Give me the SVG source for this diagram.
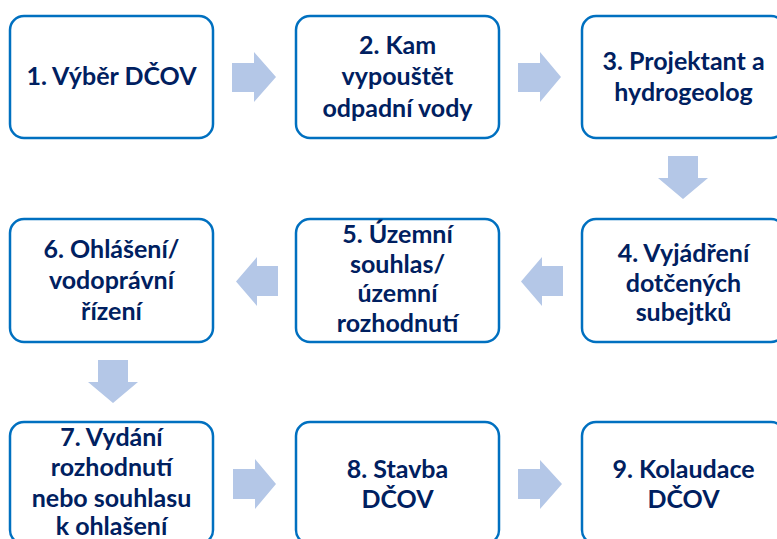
<svg xmlns="http://www.w3.org/2000/svg" width="777" height="539" viewBox="0 0 777 539">
<style>
.box{fill:#fff;stroke:#0070C0;stroke-width:2.5}
.arr{fill:#B4C7E7;stroke:none}
text{font-family:Lato,"Open Sans","Liberation Sans",sans-serif;font-weight:700;font-size:25px;fill:#002060;text-anchor:middle}
</style>
<rect width="777" height="539" fill="#fff"/>
<g id="connectors">
<polygon class="arr" points="232,63 254,63 254,52 276,77 254,102 254,92 232,92"/>
<polygon class="arr" points="518,63 540,63 540,52 561,77 540,102 540,92 518,92"/>
<polygon class="arr" points="668,156 698,156 698,178 708,178 683,199 658,178 668,178"/>
<polygon class="arr" points="563,266 542,266 542,257 521,281.5 542,306 542,296 563,296"/>
<polygon class="arr" points="278,266 257,266 257,257 236,281.5 257,306 257,296 278,296"/>
<polygon class="arr" points="98,360 128,360 128,382 138,382 113,403 88,382 98,382"/>
<polygon class="arr" points="233,469 255,469 255,459 276,484 255,509 255,499 233,499"/>
<polygon class="arr" points="518,469 540,469 540,460 562,484 540,509 540,499 518,499"/>
</g>
<g id="n1"><rect class="box" x="10" y="16" width="203" height="122" rx="14"/>
<text x="111.5" y="85">1. Výběr DČOV</text></g>
<g id="n2"><rect class="box" x="296" y="16" width="203" height="122" rx="14"/>
<text x="397.5" y="54">2. Kam</text><text x="397.5" y="85">vypouštět</text><text x="397.5" y="117">odpadní vody</text></g>
<g id="n3"><rect class="box" x="582" y="16" width="203" height="122" rx="14"/>
<text x="683.5" y="70">3. Projektant a</text><text x="683.5" y="101">hydrogeolog</text></g>
<g id="n4"><rect class="box" x="582" y="219" width="203" height="123" rx="14"/>
<text x="683.5" y="262">4. Vyjádření</text><text x="683.5" y="292">dotčených</text><text x="683.5" y="321">subejtků</text></g>
<g id="n5"><rect class="box" x="296" y="219" width="203" height="123" rx="14"/>
<text x="397.5" y="243">5. Územní</text><text x="397.5" y="273">souhlas/</text><text x="397.5" y="302">územní</text><text x="397.5" y="332">rozhodnutí</text></g>
<g id="n6"><rect class="box" x="10" y="219" width="203" height="123" rx="14"/>
<text x="111.5" y="258">6. Ohlášení/</text><text x="111.5" y="289">vodoprávní</text><text x="111.5" y="320">řízení</text></g>
<g id="n7"><rect class="box" x="10" y="422" width="203" height="122" rx="14"/>
<text x="111.5" y="446">7. Vydání</text><text x="111.5" y="476">rozhodnutí</text><text x="111.5" y="507">nebo souhlasu</text><text x="111.5" y="535">k ohlašení</text></g>
<g id="n8"><rect class="box" x="296" y="422" width="203" height="122" rx="14"/>
<text x="397.5" y="478">8. Stavba</text><text x="397.5" y="508">DČOV</text></g>
<g id="n9"><rect class="box" x="582" y="422" width="203" height="122" rx="14"/>
<text x="683.5" y="478">9. Kolaudace</text><text x="683.5" y="508">DČOV</text></g>
</svg>
